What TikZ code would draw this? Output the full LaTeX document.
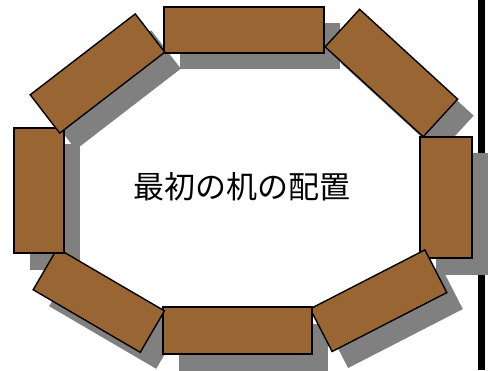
\documentclass[tikz,border=0pt]{standalone}
\usepackage{fontspec}
\newfontfamily\cjk{Noto Sans CJK JP}
\definecolor{deskbrown}{RGB}{153,102,51}
\definecolor{shadowgray}{RGB}{128,128,128}
\tikzset{
  desk/.style={draw=black, line width=1.4pt, fill=deskbrown, inner sep=0pt, rectangle},
  deskshadow/.style={fill=shadowgray, inner sep=0pt, rectangle},
}
\begin{document}
\begin{tikzpicture}[x=1pt,y=1pt]
\useasboundingbox (0,0) rectangle (498,370);
\fill[white] (0,0) rectangle (498,370);
% vertical line on the right
\coordinate (ltop) at (481.5,370);
\coordinate (lbot) at (481.5,0);
\draw[line width=7.3pt] (ltop) -- (lbot);
% shadows
\begin{scope}[shift={(16,-16.5)}]
\node[deskshadow, minimum width=160pt, minimum height=46pt] (s1) at (244,340) {};
\node[deskshadow, minimum width=133pt, minimum height=51pt, rotate=-42.5] (s2) at (391.4,297) {};
\node[deskshadow, minimum width=52pt, minimum height=121pt] (s3) at (446,172.5) {};
\node[deskshadow, minimum width=129pt, minimum height=48pt, rotate=27.2] (s4) at (378.5,69.3) {};
\node[deskshadow, minimum width=149pt, minimum height=47pt] (s5) at (237.5,39.5) {};
\node[deskshadow, minimum width=124pt, minimum height=48pt, rotate=-30.3] (s6) at (98.8,69.7) {};
\node[deskshadow, minimum width=50pt, minimum height=125pt] (s7) at (39,179.5) {};
\node[deskshadow, minimum width=132.6pt, minimum height=48.4pt, rotate=37.6] (s8) at (97.5,296.5) {};
\end{scope}
% desks
\node[desk, minimum width=160pt, minimum height=46pt] (d1) at (244,340) {};
\node[desk, minimum width=133pt, minimum height=51pt, rotate=-42.5] (d2) at (391.4,297) {};
\node[desk, minimum width=52pt, minimum height=121pt] (d3) at (446,172.5) {};
\node[desk, minimum width=129pt, minimum height=48pt, rotate=27.2] (d4) at (378.5,69.3) {};
\node[desk, minimum width=149pt, minimum height=47pt] (d5) at (237.5,39.5) {};
\node[desk, minimum width=124pt, minimum height=48pt, rotate=-30.3] (d6) at (98.8,69.7) {};
\node[desk, minimum width=50pt, minimum height=125pt] (d7) at (39,179.5) {};
\node[desk, minimum width=132.6pt, minimum height=48.4pt, rotate=37.6] (d8) at (97.5,296.5) {};
% title
\node[inner sep=0pt] (title) at (241.7,183) {\cjk\fontsize{31pt}{31pt}\selectfont 最初の机の配置};
\end{tikzpicture}
\end{document}
